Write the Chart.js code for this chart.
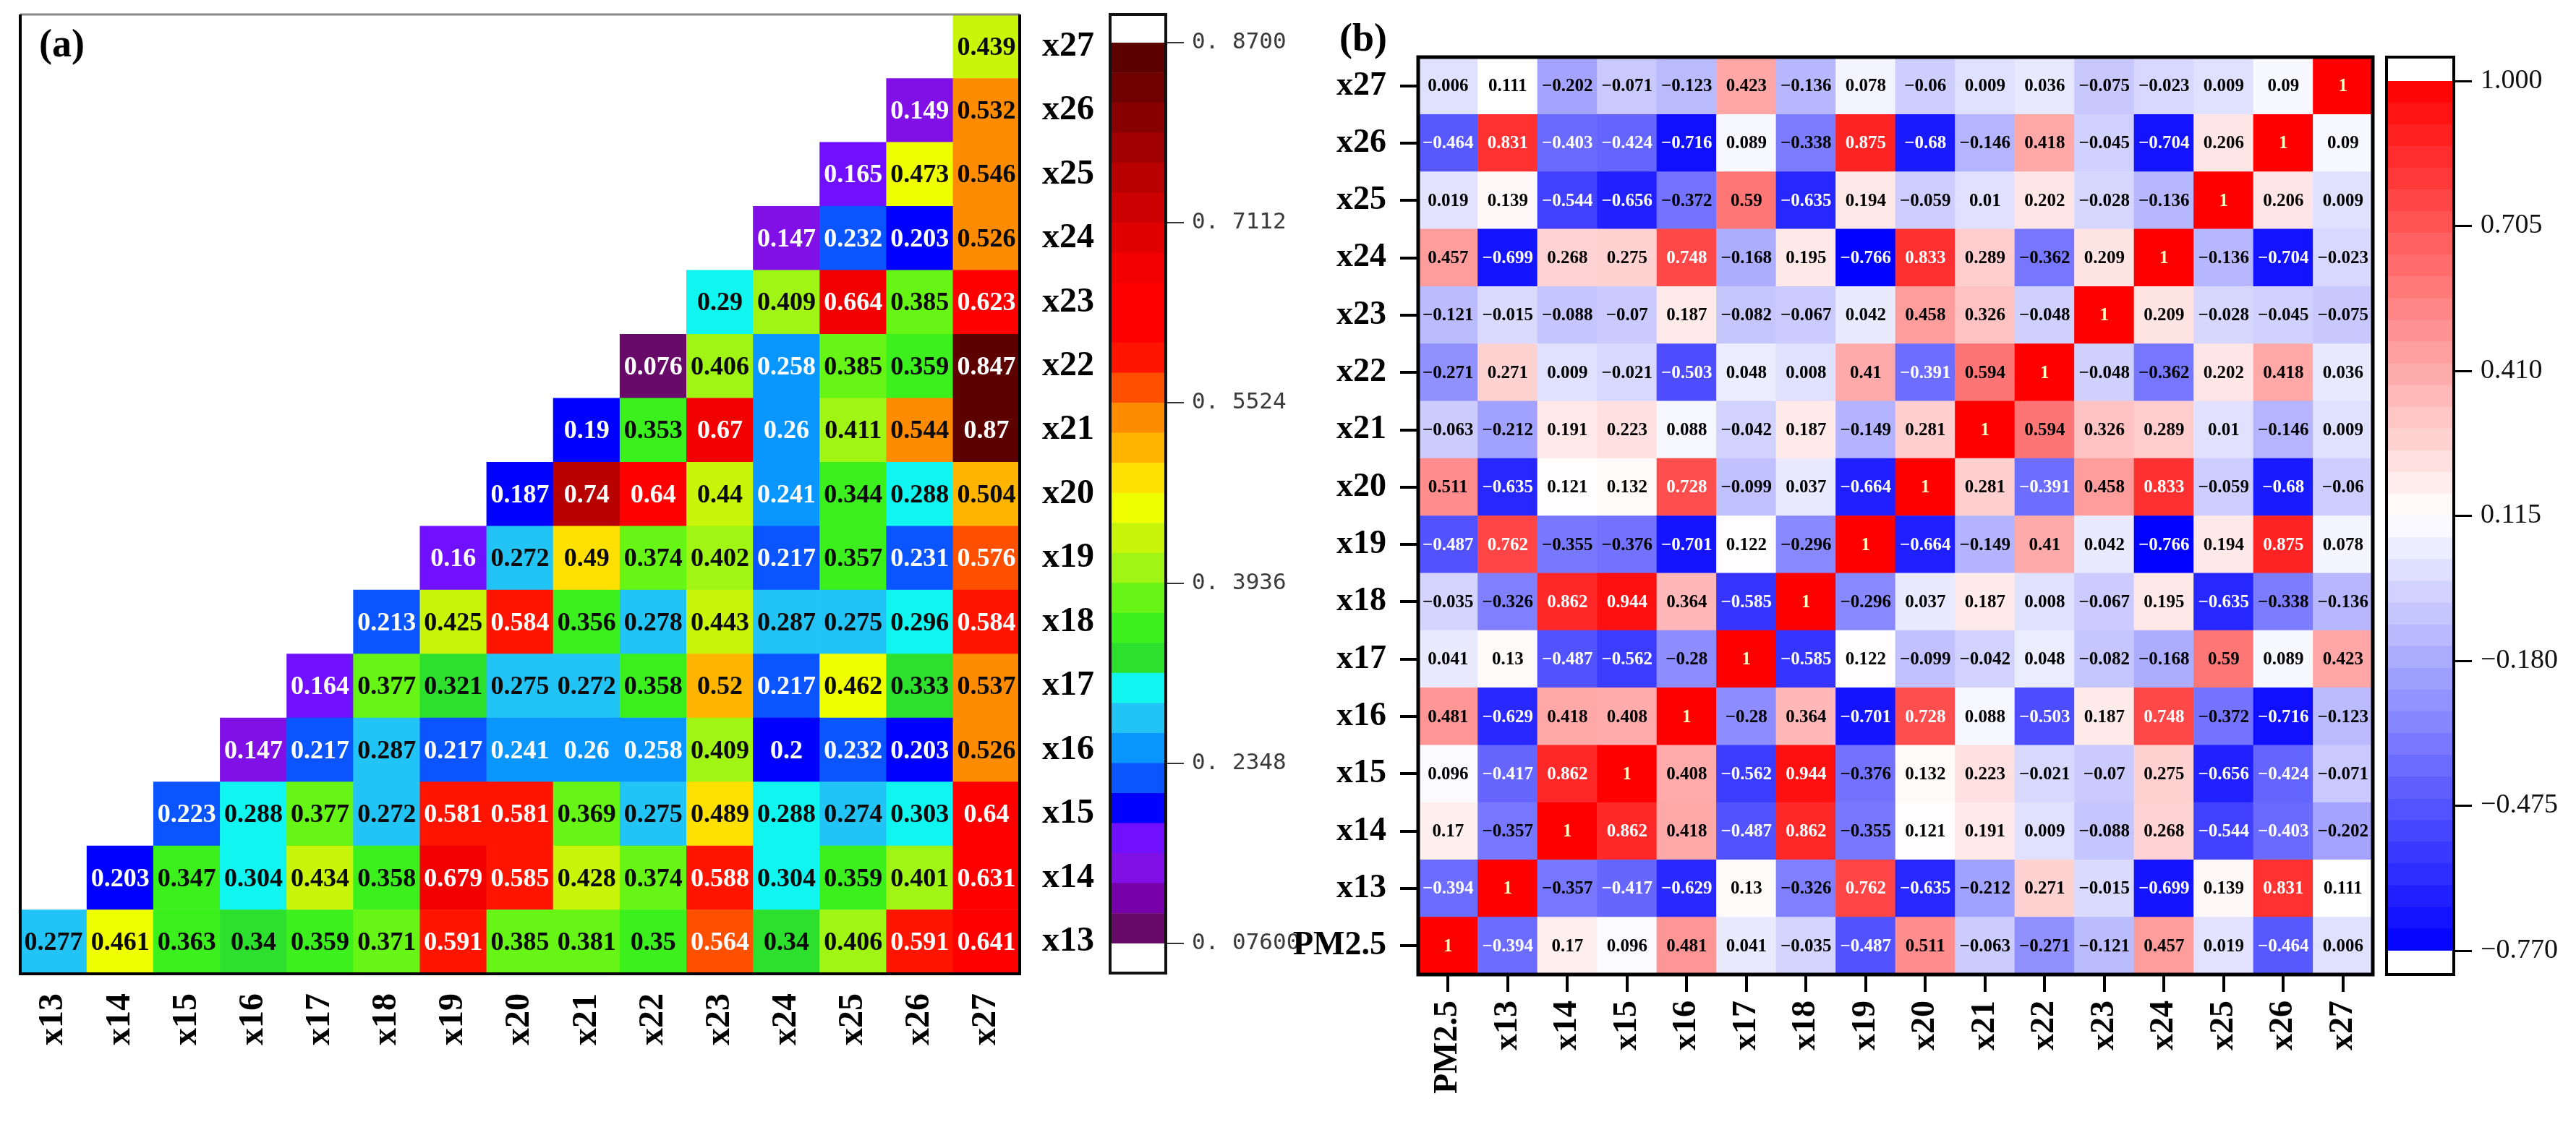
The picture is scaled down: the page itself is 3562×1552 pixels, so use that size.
<!DOCTYPE html>
<html><head><meta charset="utf-8">
<script src="https://cdn.jsdelivr.net/npm/chart.js@4.4.1/dist/chart.umd.min.js"></script>
<style>
html,body{margin:0;padding:0;background:#fff;}
#wrap{position:relative;width:3562px;height:1552px;overflow:hidden;background:#fff;}
#wrap canvas{position:absolute;left:0;top:0;}
</style></head><body>
<div id="wrap">
<canvas id="cA" width="3562" height="1552"></canvas>
<canvas id="cA2" width="3562" height="1552"></canvas>
<canvas id="cB" width="3562" height="1552"></canvas>
<canvas id="cB2" width="3562" height="1552"></canvas>
</div>
<script>
// ---------- DATA ----------
const varsA = ['x13','x14','x15','x16','x17','x18','x19','x20','x21','x22','x23','x24','x25','x26','x27'];
const varsB = ['PM2.5','x13','x14','x15','x16','x17','x18','x19','x20','x21','x22','x23','x24','x25','x26','x27'];

// panel (a): row xk, columns from xk to x27
const a13 = [0.277,0.461,0.363,0.34,0.359,0.371,0.591,0.385,0.381,0.35,0.564,0.34,0.406,0.591,0.641];
const a14 = [0.203,0.347,0.304,0.434,0.358,0.679,0.585,0.428,0.374,0.588,0.304,0.359,0.401,0.631];
const a15 = [0.223,0.288,0.377,0.272,0.581,0.581,0.369,0.275,0.489,0.288,0.274,0.303,0.64];
const a16 = [0.147,0.217,0.287,0.217,0.241,0.26,0.258,0.409,0.2,0.232,0.203,0.526];
const a17 = [0.164,0.377,0.321,0.275,0.272,0.358,0.52,0.217,0.462,0.333,0.537];
const a18 = [0.213,0.425,0.584,0.356,0.278,0.443,0.287,0.275,0.296,0.584];
const a19 = [0.16,0.272,0.49,0.374,0.402,0.217,0.357,0.231,0.576];
const a20 = [0.187,0.74,0.64,0.44,0.241,0.344,0.288,0.504];
const a21 = [0.19,0.353,0.67,0.26,0.411,0.544,0.87];
const a22 = [0.076,0.406,0.258,0.385,0.359,0.847];
const a23 = [0.29,0.409,0.664,0.385,0.623];
const a24 = [0.147,0.232,0.203,0.526];
const a25 = [0.165,0.473,0.546];
const a26 = [0.149,0.532];
const a27 = [0.439];

// panel (b): row, columns PM2.5, x13 ... x27
const bPM = [1,-0.394,0.17,0.096,0.481,0.041,-0.035,-0.487,0.511,-0.063,-0.271,-0.121,0.457,0.019,-0.464,0.006];
const b13 = [-0.394,1,-0.357,-0.417,-0.629,0.13,-0.326,0.762,-0.635,-0.212,0.271,-0.015,-0.699,0.139,0.831,0.111];
const b14 = [0.17,-0.357,1,0.862,0.418,-0.487,0.862,-0.355,0.121,0.191,0.009,-0.088,0.268,-0.544,-0.403,-0.202];
const b15 = [0.096,-0.417,0.862,1,0.408,-0.562,0.944,-0.376,0.132,0.223,-0.021,-0.07,0.275,-0.656,-0.424,-0.071];
const b16 = [0.481,-0.629,0.418,0.408,1,-0.28,0.364,-0.701,0.728,0.088,-0.503,0.187,0.748,-0.372,-0.716,-0.123];
const b17 = [0.041,0.13,-0.487,-0.562,-0.28,1,-0.585,0.122,-0.099,-0.042,0.048,-0.082,-0.168,0.59,0.089,0.423];
const b18 = [-0.035,-0.326,0.862,0.944,0.364,-0.585,1,-0.296,0.037,0.187,0.008,-0.067,0.195,-0.635,-0.338,-0.136];
const b19 = [-0.487,0.762,-0.355,-0.376,-0.701,0.122,-0.296,1,-0.664,-0.149,0.41,0.042,-0.766,0.194,0.875,0.078];
const b20 = [0.511,-0.635,0.121,0.132,0.728,-0.099,0.037,-0.664,1,0.281,-0.391,0.458,0.833,-0.059,-0.68,-0.06];
const b21 = [-0.063,-0.212,0.191,0.223,0.088,-0.042,0.187,-0.149,0.281,1,0.594,0.326,0.289,0.01,-0.146,0.009];
const b22 = [-0.271,0.271,0.009,-0.021,-0.503,0.048,0.008,0.41,-0.391,0.594,1,-0.048,-0.362,0.202,0.418,0.036];
const b23 = [-0.121,-0.015,-0.088,-0.07,0.187,-0.082,-0.067,0.042,0.458,0.326,-0.048,1,0.209,-0.028,-0.045,-0.075];
const b24 = [0.457,-0.699,0.268,0.275,0.748,-0.168,0.195,-0.766,0.833,0.289,-0.362,0.209,1,-0.136,-0.704,-0.023];
const b25 = [0.019,0.139,-0.544,-0.656,-0.372,0.59,-0.635,0.194,-0.059,0.01,0.202,-0.028,-0.136,1,0.206,0.009];
const b26 = [-0.464,0.831,-0.403,-0.424,-0.716,0.089,-0.338,0.875,-0.68,-0.146,0.418,-0.045,-0.704,0.206,1,0.09];
const b27 = [0.006,0.111,-0.202,-0.071,-0.123,0.423,-0.136,0.078,-0.06,0.009,0.036,-0.075,-0.023,0.009,0.09,1];

// colour bar ticks
const cbTicksA = [0.87, 0.7112, 0.5524, 0.3936, 0.2348, 0.076];
const cbTickTextA = ['0. 8700','0. 7112','0. 5524','0. 3936','0. 2348','0. 07600'];
const cbTicksB = [1.0, 0.705, 0.41, 0.115, -0.18, -0.475, -0.77];

// ---------- STYLE ----------
const palA = ['#680a68','#7800aa','#8010e6','#7010ff','#0000ff','#0a55ff','#0a96ff','#22c4f5','#10f5f0','#2ee02e',
  '#3cf01e','#66f514','#a0f514','#c8f50a','#f0ff00','#ffe000','#ffb400','#ff8c00','#ff5000','#ff1400',
  '#ff0000','#ff0000','#f20000','#e00000','#cc0000','#b80000','#a00000','#880000','#700000','#5c0000'];
const minA = 0.076, maxA = 0.87;
function colorA(v){
  let k = Math.floor((v - minA) / ((maxA - minA) / palA.length));
  k = Math.max(0, Math.min(palA.length - 1, k));
  return palA[k];
}
const minB = -0.77, maxB = 1.0, midB = (minB + maxB) / 2;
function colorB(v){
  if (v >= midB) { const t = Math.min(1,(v - midB)/(maxB - midB)); const c = Math.round(255*(1-t)); return `rgb(255,${c},${c})`; }
  const t = Math.min(1,(midB - v)/(midB - minB)); const c = Math.round(255*(1-t)); return `rgb(${c},${c},255)`;
}
const SERIF = "'Liberation Serif', 'Times New Roman', serif";
Chart.defaults.font.family = SERIF;
Chart.defaults.color = '#000';

function makeCellPlugin(cfg){
  return {
    id: 'cells_' + cfg.name,
    afterDatasetsDraw(chart){
      const ctx = chart.ctx;
      ctx.save();
      ctx.font = cfg.font; ctx.textAlign = 'center'; ctx.textBaseline = 'middle';
      chart.data.datasets.forEach((ds, di) => {
        const meta = chart.getDatasetMeta(di);
        meta.data.forEach((el, i) => {
          const v = ds.vals ? ds.vals[i] : null;
          if (v === null || v === undefined) return;
          const p = el.getCenterPoint();
          ctx.fillStyle = cfg.textColor(v);
          ctx.fillText(cfg.fmt(v), p.x, p.y + cfg.dy);
        });
      });
      ctx.restore();
      if (cfg.after) { ctx.save(); cfg.after(chart, ctx); ctx.restore(); }
    }
  };
}
function fixY(w){ return s => { s.width = w; s.paddingTop = 0; s.paddingBottom = 0; }; }
function fixX(h){ return s => { s.height = h; s.paddingLeft = 0; s.paddingRight = 0; }; }
const W = 3562, H = 1552;
const baseOpts = { responsive:false, animation:false, devicePixelRatio:1, events:[],
  plugins:{ legend:{display:false}, tooltip:{enabled:false}, title:{display:false} } };

// ---------- PANEL (a) ----------
const rowsA = [a13,a14,a15,a16,a17,a18,a19,a20,a21,a22,a23,a24,a25,a26,a27];
const dsA = rowsA.map((vals, r) => {
  const full = varsA.map((_, c) => c >= r ? vals[c - r] : null);
  return { data: full.map(v => v === null ? null : [r, r + 1]), vals: full,
    backgroundColor: full.map(v => v === null ? 'rgba(0,0,0,0)' : colorA(v)),
    borderWidth: 0, grouped: false, barPercentage: 1, categoryPercentage: 1 };
});
const A = { left: 28, top: 20, right: 1410, bottom: 1347 };
new Chart(document.getElementById('cA'), {
  type: 'bar',
  data: { labels: varsA, datasets: dsA },
  options: Object.assign({}, baseOpts, {
    layout: { padding: { left: A.left, top: A.top, right: W - A.right - 150, bottom: H - A.bottom - 150 } },
    scales: {
      x: { type:'category', offset:true, grid:{display:false, drawTicks:false}, border:{display:false},
           ticks:{autoSkip:false, minRotation:90, maxRotation:90, padding:27, color:'#000', font:{size:48, weight:'bold'}},
           afterFit: fixX(150) },
      y: { type:'linear', position:'right', min:0, max:15, grid:{display:false, drawTicks:false}, border:{display:false},
           afterBuildTicks: s => { s.ticks = varsA.map((_, i) => ({ value: i + 0.5 })); },
           ticks:{autoSkip:false, padding:31, color:'#000', font:{size:48, weight:'bold'}, callback: v => varsA[Math.floor(v)]},
           afterFit: fixY(150) }
    }
  }),
  plugins: [ makeCellPlugin({ name:'a', font:"bold 36px " + SERIF, dy:2,
    textColor: v => (v <= 0.265 || v >= 0.56) ? '#ffffff' : '#0a0a0a',
    fmt: v => String(v),
    after: (chart, ctx) => {
      const a = chart.chartArea;
      ctx.strokeStyle = '#8a8a8a'; ctx.lineWidth = 3;
      ctx.beginPath(); ctx.moveTo(a.left, a.top); ctx.lineTo(a.right, a.top); ctx.stroke();
      ctx.strokeStyle = '#000'; ctx.lineWidth = 4;
      ctx.beginPath(); ctx.moveTo(a.left, a.top); ctx.lineTo(a.left, a.bottom); ctx.lineTo(a.right, a.bottom); ctx.lineTo(a.right, a.top); ctx.stroke();
      ctx.fillStyle = '#000'; ctx.font = "bold 54px " + SERIF; ctx.textAlign = 'left'; ctx.textBaseline = 'alphabetic';
      ctx.fillText('(a)', 54, 78);
    } }) ]
});

// colour bar (a)
const nA = palA.length, stepA = (maxA - minA) / nA;
new Chart(document.getElementById('cA2'), {
  type: 'bar',
  data: { labels: ['c'], datasets: palA.map((col, k) => ({ data: [[minA + k*stepA, minA + (k+1)*stepA]],
    backgroundColor: col, borderWidth: 0, grouped: false, barPercentage: 1, categoryPercentage: 1 })) },
  options: Object.assign({}, baseOpts, {
    layout: { padding: { left: 1535, top: 59, right: W - 1612 - 500, bottom: H - 1305 } },
    scales: {
      x: { display:false, offset:true },
      y: { type:'linear', position:'right', min:minA, max:maxA, border:{display:false},
           grid:{drawOnChartArea:false, drawTicks:true, tickLength:25, color:'#333', lineWidth:2},
           afterBuildTicks: s => { s.ticks = cbTicksA.map(v => ({ value: v })); },
           ticks:{autoSkip:false, padding:11, color:'#3a3a3a', font:{family:"'DejaVu Sans Mono', monospace", size:31},
                  callback: (v, i) => cbTickTextA[i]},
           afterFit: fixY(500) }
    }
  }),
  plugins: [ makeCellPlugin({ name:'cba', font:'10px sans-serif', dy:0, textColor: () => '#000', fmt: v => '',
    after: (chart, ctx) => {
      const a = chart.chartArea;
      ctx.strokeStyle = '#111'; ctx.lineWidth = 4;
      ctx.strokeRect(a.left, a.top - 39, a.right - a.left, (a.bottom + 41) - (a.top - 39));
    } }) ]
});

// ---------- PANEL (b) ----------
const rowsB = [bPM,b13,b14,b15,b16,b17,b18,b19,b20,b21,b22,b23,b24,b25,b26,b27];
const dsB = rowsB.map((vals, r) => ({
  data: vals.map(() => [r, r + 1]), vals: vals,
  backgroundColor: vals.map(v => colorB(v)),
  borderWidth: 0, grouped: false, barPercentage: 1, categoryPercentage: 1 }));
const B = { left: 1961, top: 79, right: 3281, bottom: 1348 };
new Chart(document.getElementById('cB'), {
  type: 'bar',
  data: { labels: varsB, datasets: dsB },
  options: Object.assign({}, baseOpts, {
    layout: { padding: { left: B.left - 300, top: B.top, right: W - B.right, bottom: H - B.bottom - 190 } },
    scales: {
      x: { type:'category', offset:true, border:{display:false},
           grid:{display:true, offset:false, drawOnChartArea:false, drawTicks:true, tickLength:24, color:'#000', lineWidth:4},
           ticks:{autoSkip:false, minRotation:90, maxRotation:90, padding:12, color:'#000', font:{size:46, weight:'bold'}},
           afterFit: fixX(190) },
      y: { type:'linear', position:'left', min:0, max:16, border:{display:false},
           grid:{display:true, drawOnChartArea:false, drawTicks:true, tickLength:25, color:'#000', lineWidth:4},
           afterBuildTicks: s => { s.ticks = varsB.map((_, i) => ({ value: i + 0.5 })); },
           ticks:{autoSkip:false, padding:19, color:'#000', font:{size:46, weight:'bold'}, callback: v => varsB[Math.floor(v)]},
           afterFit: fixY(300) }
    }
  }),
  plugins: [ makeCellPlugin({ name:'b', font:"bold 25px " + SERIF, dy:1,
    textColor: v => v === 1 ? '#ffffc4' : ((v >= 0.65 || v <= -0.385) ? '#ffffff' : '#000000'),
    fmt: v => v < 0 ? '\u2212' + String(-v) : String(v),
    after: (chart, ctx) => {
      const a = chart.chartArea;
      ctx.strokeStyle = '#000'; ctx.lineWidth = 5;
      ctx.strokeRect(a.left, a.top, a.right - a.left, a.bottom - a.top);
      ctx.fillStyle = '#000'; ctx.font = "bold 54px " + SERIF; ctx.textAlign = 'left'; ctx.textBaseline = 'alphabetic';
      ctx.fillText('(b)', 1852, 70);
    } }) ]
});

// colour bar (b)
const nB = 40, stepB = (maxB - minB) / nB;
const bandsB = Array.from({ length: nB }, (_, k) => [minB + k*stepB, minB + (k+1)*stepB]);
new Chart(document.getElementById('cB2'), {
  type: 'bar',
  data: { labels: ['c'], datasets: bandsB.map(b => ({ data: [b], backgroundColor: colorB((b[0] + b[1]) / 2),
    borderWidth: 0, grouped: false, barPercentage: 1, categoryPercentage: 1 })) },
  options: Object.assign({}, baseOpts, {
    layout: { padding: { left: 3300, top: 112, right: W - 3393 - 160, bottom: H - 1315 } },
    scales: {
      x: { display:false, offset:true },
      y: { type:'linear', position:'right', min:minB, max:maxB, border:{display:false},
           grid:{drawOnChartArea:false, drawTicks:true, tickLength:25, color:'#000', lineWidth:3},
           afterBuildTicks: s => { s.ticks = cbTicksB.map(v => ({ value: v })); },
           ticks:{autoSkip:false, padding:12, color:'#111', font:{size:38},
                  callback: v => (v < 0 ? '\u2212' : '') + Math.abs(v).toFixed(3)},
           afterFit: fixY(160) }
    }
  }),
  plugins: [ makeCellPlugin({ name:'cbb', font:'10px sans-serif', dy:0, textColor: () => '#000', fmt: v => '',
    after: (chart, ctx) => {
      const a = chart.chartArea;
      ctx.strokeStyle = '#000'; ctx.lineWidth = 4;
      ctx.strokeRect(a.left, a.top - 33, a.right - a.left, (a.bottom + 33) - (a.top - 33));
    } }) ]
});
</script>
</body></html>
